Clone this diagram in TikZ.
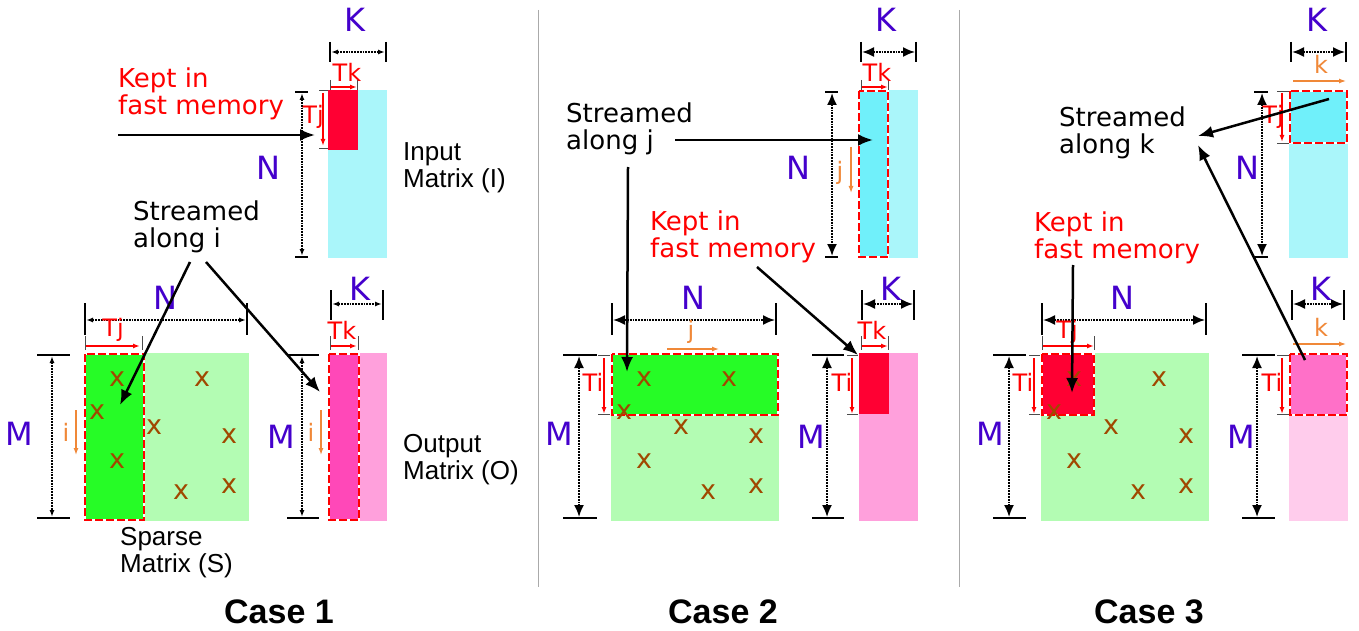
\documentclass[tikz,border=0pt]{standalone}
\usepackage{fontspec}
\setmainfont{DejaVu Sans}
\newfontfamily\arialfont{Liberation Sans}
\usetikzlibrary{arrows.meta}
\definecolor{dimblue}{RGB}{68,0,204}
\definecolor{blockred}{RGB}{255,0,51}
\definecolor{cyanlt}{RGB}{170,246,250}
\definecolor{cyandk}{RGB}{112,240,250}
\definecolor{greenlt}{RGB}{179,252,179}
\definecolor{greendk}{RGB}{38,252,38}
\definecolor{pinklt}{RGB}{255,160,220}
\definecolor{pinkdk}{RGB}{255,72,184}
\definecolor{pinkpale}{RGB}{255,204,236}
\definecolor{pinkmid}{RGB}{255,112,200}
\definecolor{orng}{RGB}{240,136,56}
\definecolor{brn}{RGB}{160,72,0}
\definecolor{sepgray}{RGB}{170,170,170}

\begin{document}
\begin{tikzpicture}[x=1pt,y=-1pt,>=Latex,
  txt/.style={font=\fontsize{26}{27}\selectfont,align=left,anchor=west,inner sep=0pt},
  mtxt/.style={font=\arialfont\fontsize{26}{27}\selectfont,align=left,anchor=west,inner sep=0pt},
  casetxt/.style={font=\arialfont\bfseries\fontsize{34}{34}\selectfont,inner sep=0pt},
  dimlbl/.style={text=dimblue,font=\fontsize{32}{32}\selectfont,inner sep=0pt},
  tilelbl/.style={text=red,font=\fontsize{24}{24}\selectfont,inner sep=0pt},
  dirlbl/.style={text=orng,font=\fontsize{24}{24}\selectfont,inner sep=0pt},
  xmk/.style={text=brn,font=\fontsize{27}{27}\selectfont,inner sep=0pt},
  tick/.style={line width=1.3pt},
  smalltick/.style={line width=0.9pt,black!70},
  dimsmall/.style={densely dotted,line width=1.8pt,{Latex[length=7pt,width=5pt]}-{Latex[length=7pt,width=5pt]}},
  dimbig/.style={densely dotted,line width=1.8pt,{Latex[length=12pt,width=10pt]}-{Latex[length=12pt,width=10pt]}},
  tilearr/.style={red,line width=1.5pt,-{Latex[length=7pt,width=5pt]}},
  dirarr/.style={orng,line width=1.3pt,-{Latex[length=7pt,width=5pt]}},
  bigarr/.style={line width=2.5pt,-{Latex[length=15pt,width=12pt]}},
  tileedge/.style={draw=red,line width=2pt,dash pattern=on 8pt off 3pt,preaction={draw=white,line width=2pt}}]
\useasboundingbox (0,0) rectangle (1359,631);

% separators
\draw[sepgray,line width=1pt] (538,10) -- (538,587);
\draw[sepgray,line width=1pt] (959,10) -- (959,587);

%%%%% Case 1
% input matrix
\fill[cyanlt] (328,90) rectangle (387,258);
\fill[blockred] (328,90) rectangle (358,150);
\draw[tick] (330,42) -- (330,62) (386,42) -- (386,62);
\draw[dimsmall] (331,52) -- (385,52);
\node[dimlbl] (k1a) at (355,20) {K};
\draw[smalltick] (330,80) -- (330,90) (357,80) -- (357,90);
\draw[tilearr] (331,87) -- (357,87);
\node[tilelbl] (tk1a) at (347,72) {Tk};
\draw[smalltick] (319,90) -- (328,90) (319,148) -- (328,148);
\draw[tilearr] (323,93) -- (323,146);
\node[tilelbl] (tj1a) at (313,117) {Tj};
\draw[tick] (295,92) -- (308,92) (295,257) -- (308,257);
\draw[dimsmall] (302,93) -- (302,256);
\node[dimlbl] (n1a) at (268,168) {N};
\node[mtxt] (inp1) at (403,168) {Input\\Matrix (I)};
% sparse matrix
\fill[greenlt] (84,353) rectangle (249,521);
\fill[greendk] (84,353) rectangle (144,521);
\draw[tileedge] (85,354) rectangle (144,520);
\draw[tick] (85,303) -- (85,335) (247,303) -- (247,335);
\draw[dimsmall] (86,320) -- (246,320);
\node[dimlbl] (n1b) at (165,298) {N};
\draw[smalltick] (85,336) -- (85,350) (142,336) -- (142,350);
\draw[tilearr] (86,346) -- (140,346);
\node[tilelbl] (tj1b) at (113,330) {Tj};
\draw[tick] (37,355) -- (70,355) (37,518) -- (70,518);
\draw[dimsmall] (52,356) -- (52,517);
\node[dimlbl] (m1a) at (19,434) {M};
\node[dirlbl] (i1a) at (66,432) {i};
\draw[dirarr] (76,410) -- (76,455);
\node[mtxt] (spr1) at (120,553) {Sparse\\Matrix (S)};
% output matrix
\fill[pinklt] (328,353) rectangle (387,521);
\fill[pinkdk] (328,353) rectangle (359,521);
\draw[tileedge] (329,354) rectangle (359,520);
\draw[tick] (331,290) -- (331,320) (383,290) -- (383,320);
\draw[dimsmall] (332,304) -- (382,304);
\node[dimlbl] (k1b) at (360,289) {K};
\draw[smalltick] (330,336) -- (330,350) (358,336) -- (358,350);
\draw[tilearr] (331,346) -- (357,346);
\node[tilelbl] (tk1b) at (342,330) {Tk};
\draw[tick] (287,355) -- (319,355) (287,518) -- (319,518);
\draw[dimsmall] (302,356) -- (302,517);
\node[dimlbl] (m1b) at (281,437) {M};
\node[dirlbl] (i1b) at (311,432) {i};
\draw[dirarr] (321,410) -- (321,455);
\node[mtxt] (out1) at (403,460) {Output\\Matrix (O)};
% labels and arrows
\node[txt,text=red] (keep1) at (118,94) {Kept in\\fast memory};
\node[txt] (strm1) at (133,227) {Streamed\\along i};
\coordinate (k1s) at (118,135); \coordinate (k1e) at (315,135);
\coordinate (s1a) at (190,262); \coordinate (s1b) at (206,262);
\coordinate (s1c) at (120,405); \coordinate (s1d) at (320,392);
\draw[bigarr] (k1s) -- (k1e);
\draw[bigarr] (s1a) -- (s1c);
\draw[bigarr] (s1b) -- (s1d);
\node[casetxt] (case1) at (279,612) {Case 1};

%%%%% Case 2
% input matrix
\fill[cyanlt] (858,90) rectangle (918,258);
\fill[cyandk] (858,90) rectangle (888,258);
\draw[tileedge] (859,91) rectangle (888,257);
\draw[tick] (861,42) -- (861,62) (916,42) -- (916,62);
\draw[dimbig] (862,52) -- (915,52);
\node[dimlbl] (k2a) at (886,20) {K};
\draw[smalltick] (861,80) -- (861,90) (888,80) -- (888,90);
\draw[tilearr] (862,87) -- (888,87);
\node[tilelbl] (tk2a) at (877,72) {Tk};
\draw[tick] (825,92) -- (838,92) (825,257) -- (838,257);
\draw[dimbig] (832,93) -- (832,256);
\node[dimlbl] (n2a) at (798,168) {N};
\node[dirlbl] (j2a) at (840,173) {j};
\draw[dirarr] (851,147) -- (851,193);
% sparse matrix
\fill[greenlt] (611,353) rectangle (779,521);
\fill[greendk] (611,353) rectangle (779,416);
\draw[tileedge] (612,354) rectangle (778,415);
\draw[tick] (612,303) -- (612,335) (776,303) -- (776,335);
\draw[dimbig] (613,320) -- (775,320);
\node[dimlbl] (n2b) at (693,298) {N};
\node[dirlbl] (j2b) at (691,332) {j};
\draw[dirarr] (667,349) -- (719,349);
\draw[tick] (563,355) -- (597,355) (563,518) -- (597,518);
\draw[dimbig] (579,356) -- (579,517);
\node[dimlbl] (m2a) at (559,434) {M};
\draw[smalltick] (598,355) -- (610,355) (598,414) -- (610,414);
\draw[tilearr] (604,358) -- (604,414);
\node[tilelbl] (ti2a) at (593,382) {Ti};
% output matrix
\fill[pinklt] (859,353) rectangle (918,521);
\fill[blockred] (859,353) rectangle (889,414);
\draw[tick] (862,290) -- (862,320) (914,290) -- (914,320);
\draw[dimbig] (863,304) -- (913,304);
\node[dimlbl] (k2b) at (891,289) {K};
\draw[smalltick] (861,336) -- (861,350) (888,336) -- (888,350);
\draw[tilearr] (862,346) -- (888,346);
\node[tilelbl] (tk2b) at (872,330) {Tk};
\draw[tick] (812,355) -- (844,355) (812,518) -- (844,518);
\draw[dimbig] (827,356) -- (827,517);
\node[dimlbl] (m2b) at (811,437) {M};
\draw[smalltick] (847,355) -- (858,355) (847,414) -- (858,414);
\draw[tilearr] (852,358) -- (852,414);
\node[tilelbl] (ti2b) at (842,382) {Ti};
% labels and arrows
\node[txt] (strm2) at (566,129) {Streamed\\along j};
\node[txt,text=red] (keep2) at (650,237) {Kept in\\fast memory};
\coordinate (s2a) at (675,140); \coordinate (s2b) at (873,140);
\coordinate (s2c) at (628,167); \coordinate (s2d) at (627,372);
\coordinate (k2s) at (757,267); \coordinate (k2e) at (858,355);
\draw[bigarr] (s2a) -- (s2b);
\draw[bigarr] (s2c) -- (s2d);
\draw[bigarr] (k2s) -- (k2e);
\node[casetxt] (case2) at (723,612) {Case 2};

%%%%% Case 3
% input matrix
\fill[cyanlt] (1289,90) rectangle (1348,258);
\fill[cyandk] (1289,90) rectangle (1348,144);
\draw[tileedge] (1290,91) rectangle (1347,143);
\draw[tick] (1291,42) -- (1291,62) (1346,42) -- (1346,62);
\draw[dimbig] (1292,52) -- (1345,52);
\node[dimlbl] (k3a) at (1317,20) {K};
\node[dirlbl] (kk3a) at (1321,64) {k};
\draw[dirarr] (1293,81) -- (1346,81);
\draw[smalltick] (1277,91) -- (1289,91) (1277,143) -- (1289,143);
\draw[tilearr] (1282,93) -- (1282,142);
\node[tilelbl] (tj3a) at (1273,117) {Tj};
\draw[tick] (1254,92) -- (1268,92) (1254,257) -- (1268,257);
\draw[dimbig] (1262,93) -- (1262,256);
\node[dimlbl] (n3a) at (1247,168) {N};
% sparse matrix
\fill[greenlt] (1041,353) rectangle (1209,521);
\fill[blockred] (1041,353) rectangle (1095,416);
\draw[tileedge] (1042,354) rectangle (1094,415);
\draw[tick] (1042,303) -- (1042,335) (1206,303) -- (1206,335);
\draw[dimbig] (1043,320) -- (1205,320);
\node[dimlbl] (n3b) at (1122,298) {N};
\draw[smalltick] (1042,336) -- (1042,350) (1094,336) -- (1094,350);
\draw[tilearr] (1043,346) -- (1094,346);
\node[tilelbl] (tj3b) at (1067,332) {Tj};
\draw[tick] (993,355) -- (1026,355) (993,518) -- (1026,518);
\draw[dimbig] (1009,356) -- (1009,517);
\node[dimlbl] (m3a) at (990,434) {M};
\draw[smalltick] (1029,355) -- (1040,355) (1029,414) -- (1040,414);
\draw[tilearr] (1034,358) -- (1034,414);
\node[tilelbl] (ti3a) at (1023,382) {Ti};
% output matrix
\fill[pinkpale] (1289,353) rectangle (1348,521);
\fill[pinkmid] (1289,353) rectangle (1348,416);
\draw[tileedge] (1290,354) rectangle (1347,415);
\draw[tick] (1292,290) -- (1292,320) (1344,290) -- (1344,320);
\draw[dimbig] (1293,304) -- (1343,304);
\node[dimlbl] (k3b) at (1321,289) {K};
\node[dirlbl] (kk3b) at (1321,327) {k};
\draw[dirarr] (1293,344) -- (1346,344);
\draw[tick] (1242,355) -- (1275,355) (1242,518) -- (1275,518);
\draw[dimbig] (1257,356) -- (1257,517);
\node[dimlbl] (m3b) at (1241,437) {M};
\draw[smalltick] (1277,355) -- (1289,355) (1277,414) -- (1289,414);
\draw[tilearr] (1282,358) -- (1282,414);
\node[tilelbl] (ti3b) at (1272,382) {Ti};
% labels and arrows
\node[txt] (strm3) at (1059,133) {Streamed\\along k};
\node[txt,text=red] (keep3) at (1034,238) {Kept in\\fast memory};
\coordinate (s3a) at (1329,99); \coordinate (s3b) at (1198,136);
\coordinate (s3c) at (1305,360); \coordinate (s3d) at (1198,145);
\coordinate (k3s) at (1073,265); \coordinate (k3e) at (1072,393);
\node[casetxt] (case3) at (1149,612) {Case 3};

% nonzeros of the sparse matrices
\foreach \dx in {0,527,957}
  \foreach \px/\py in {117/379,97/412,117/461,154/427,202/379,229/436,181/492,229/486}
    \node[xmk] at (\px+\dx,\py) {x};

\draw[bigarr] (s3a) -- (s3b);
\draw[bigarr] (s3c) -- (s3d);
\draw[bigarr] (k3s) -- (k3e);
\end{tikzpicture}
\end{document}
